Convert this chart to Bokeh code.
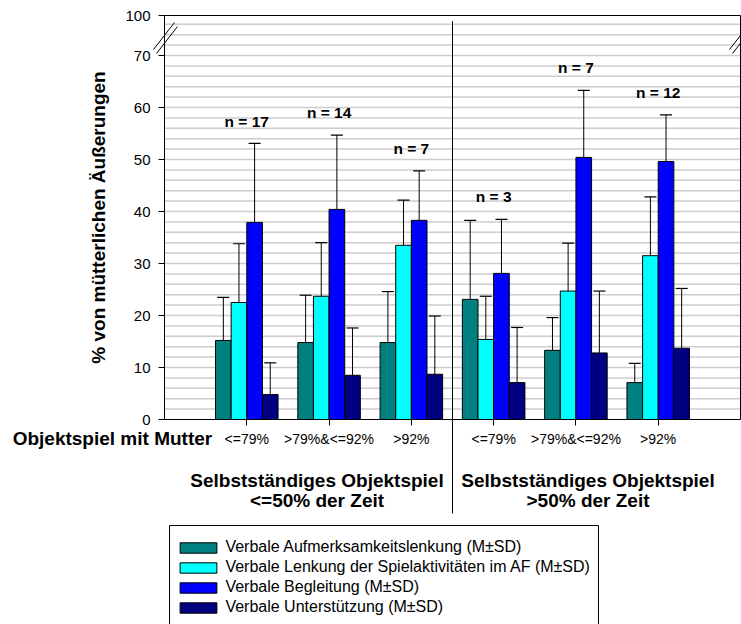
from bokeh.plotting import figure
from bokeh.models import (Range1d, FixedTicker, ColumnDataSource, Whisker, TeeHead,
                          LinearAxis, Legend, LegendItem)
from bokeh.core.properties import value
from bokeh.embed import file_html
from bokeh.resources import INLINE

# ---------------- data ----------------
categories = ["<=79%", ">79%&<=92%", ">92%", "<=79%", ">79%&<=92%", ">92%"]
n_labels = ["n = 17", "n = 14", "n = 7", "n = 3", "n = 7", "n = 12"]
block_line1 = ["Selbstständiges Objektspiel", "Selbstständiges Objektspiel"]
block_line2 = ["<=50% der Zeit", ">50% der Zeit"]
x_title = "Objektspiel mit Mutter"
y_title = "% von mütterlichen Äußerungen"
series_names = ["Verbale Aufmerksamkeitslenkung (M±SD)",
                "Verbale Lenkung der Spielaktivitäten im AF (M±SD)",
                "Verbale Begleitung (M±SD)",
                "Verbale Unterstützung (M±SD)"]

aufmerksamkeit_mean = [15.2, 14.8, 14.8, 23.1, 13.3, 7.1]
aufmerksamkeit_sd = [8.3, 9.1, 9.8, 15.2, 6.3, 3.7]
lenkung_mean = [22.5, 23.7, 33.5, 15.4, 24.7, 31.5]
lenkung_sd = [11.3, 10.3, 8.7, 8.3, 9.2, 11.3]
begleitung_mean = [37.9, 40.4, 38.3, 28.1, 50.4, 49.6]
begleitung_sd = [15.2, 14.3, 9.5, 10.4, 12.9, 9.0]
unterstuetzung_mean = [4.8, 8.5, 8.7, 7.1, 12.8, 13.7]
unterstuetzung_sd = [6.1, 9.1, 11.2, 10.6, 11.9, 11.5]

y_ticks = [0, 10, 20, 30, 40, 50, 60, 70]
y_top_label = "100"

# ---------------- layout / styling ----------------
W, H = 741, 624
PX_X0, PX_PER_X = 164.0, 576.0 / 7.0      # pixel of x=0, pixels per x unit
PX_Y0, PX_PER_Y = 419.0, 5.2              # pixel of y=0, pixels per y unit
Y_BREAK_TOP = (PX_Y0 - 15.0) / PX_PER_Y   # where "100" is drawn


def dx(px):
    return (px - PX_X0) / PX_PER_X


def dy(py):
    return (PX_Y0 - py) / PX_PER_Y


colors = ["#008080", "#00FFFF", "#0000FF", "#000080"]
FONT = "Liberation Sans"
bar_w = 0.19
n_groups = len(categories)

means = [aufmerksamkeit_mean, lenkung_mean, begleitung_mean, unterstuetzung_mean]
sds = [aufmerksamkeit_sd, lenkung_sd, begleitung_sd, unterstuetzung_sd]
centers = [i + 1 for i in range(n_groups)]
x_end = n_groups + 1

p = figure(width=W, height=H,
           x_range=Range1d(dx(0), dx(W)), y_range=Range1d(dy(H), dy(0)),
           output_backend="svg", toolbar_location=None,
           x_axis_location=None, y_axis_location=None, min_border=0)
p.background_fill_color = "white"
p.border_fill_color = "white"
p.outline_line_color = None
for g in p.grid:
    g.visible = False

# horizontal grid lines every 2 units inside the plot area
grid_y = [v for v in range(2, int(Y_BREAK_TOP), 2)]
p.segment(x0=[0] * len(grid_y), x1=[x_end] * len(grid_y), y0=grid_y, y1=grid_y,
          line_color="#cccccc", line_width=1.5)
# top and right frame lines
p.segment(x0=[0, x_end], x1=[x_end, x_end], y0=[Y_BREAK_TOP, 0], y1=[Y_BREAK_TOP, Y_BREAK_TOP],
          line_color="black", line_width=1)

# y axis
yax = LinearAxis(fixed_location=0, bounds=(0, Y_BREAK_TOP))
yax.ticker = FixedTicker(ticks=y_ticks + [Y_BREAK_TOP], minor_ticks=[])
yax.major_label_overrides = {Y_BREAK_TOP: y_top_label}
yax.major_label_text_font = FONT
yax.major_label_text_font_size = "15px"
yax.major_label_text_color = "black"
yax.major_tick_out = 6
yax.major_tick_in = 0
yax.minor_tick_out = 0
yax.minor_tick_in = 0
yax.major_label_standoff = 8
yax.axis_line_color = "black"
yax.major_tick_line_color = "black"
yax.axis_label = y_title
yax.axis_label_text_font = FONT
yax.axis_label_text_font_size = "19px"
yax.axis_label_text_font_style = "bold"
yax.axis_label_text_color = "black"
yax.axis_label_standoff = 13
p.add_layout(yax, "left")

# x axis
xax = LinearAxis(fixed_location=0, bounds=(0, x_end))
xax.ticker = FixedTicker(ticks=centers, minor_ticks=[])
xax.major_label_overrides = {c: lab for c, lab in zip(centers, categories)}
xax.major_label_text_font = FONT
xax.major_label_text_font_size = "14px"
xax.major_label_text_color = "black"
xax.major_tick_out = 6
xax.major_tick_in = 0
xax.minor_tick_out = 0
xax.minor_tick_in = 0
xax.major_label_standoff = 5
xax.axis_line_color = "black"
xax.major_tick_line_color = "black"
p.add_layout(xax, "below")

# bars + error bars
items = []
for k in range(4):
    off = (k - 1.5) * bar_w
    xs = [c + off for c in centers]
    upper = [m + s for m, s in zip(means[k], sds[k])]
    src = ColumnDataSource(dict(x=xs, top=means[k], upper=upper))
    r = p.vbar(x="x", top="top", bottom=0, width=bar_w, source=src,
               fill_color=colors[k], line_color="black", line_width=1)
    w = Whisker(source=src, base="x", upper="upper", lower="top",
                upper_head=TeeHead(size=12, line_color="black", line_width=1.2),
                lower_head=None, line_color="black", line_width=1, level="annotation")
    p.add_layout(w)
    items.append(LegendItem(label=series_names[k], renderers=[r]))

# n labels above the highest error bar of each group
n_y = [max(means[k][i] + sds[k][i] for k in range(4)) + 4.3 for i in range(n_groups)]
p.text(x=centers, y=n_y, text=n_labels, text_font=value(FONT), text_font_style="bold",
       text_font_size="15.5px", text_align="center", text_baseline="middle", text_color="black")

# divider between the two blocks
mid = n_groups / 2 + 0.5
p.segment(x0=[mid], x1=[mid], y0=[dy(20.7)], y1=[dy(513)], line_color="black", line_width=1)

# axis break marks (left and right)
brk = [(153, 49, 174, 22), (156, 53, 177, 26)]
bx0, bx1, by0, by1 = [], [], [], []
for shift in (0, x_end):
    for (a, b, c, d) in brk:
        bx0.append(dx(a) + shift); by0.append(dy(b))
        bx1.append(dx(c) + shift); by1.append(dy(d))
p.segment(x0=bx0, y0=by0, x1=bx1, y1=by1, line_color="black", line_width=1)

# texts below the axis
p.text(x=[dx(211.7)], y=[dy(438)], text=[x_title], text_font=value(FONT),
       text_font_size="19px", text_font_style="bold", text_align="right",
       text_baseline="middle", text_color="black")
block_x = [dx(316.5), dx(587.5)]
p.text(x=block_x, y=[dy(480)] * 2, text=block_line1, text_font=value(FONT),
       text_font_size="19px", text_font_style="bold", text_align="center",
       text_baseline="middle", text_color="black")
p.text(x=block_x, y=[dy(500)] * 2, text=block_line2, text_font=value(FONT),
       text_font_size="19px", text_font_style="bold", text_align="center",
       text_baseline="middle", text_color="black")

# legend box + legend
p.quad(left=[dx(169)], right=[dx(598)], top=[dy(525)], bottom=[dy(640)],
       fill_color="white", line_color="black", line_width=1)
legend = Legend(items=items, location=(175.4, H - 617), border_line_alpha=0,
                background_fill_alpha=0, padding=0, margin=0, spacing=0,
                glyph_width=46, glyph_height=13, label_standoff=4, label_height=20,
                label_text_font=FONT, label_text_font_size="16px", label_text_color="black")
p.add_layout(legend, "center")

open("out.html", "w").write(file_html(p, INLINE))
